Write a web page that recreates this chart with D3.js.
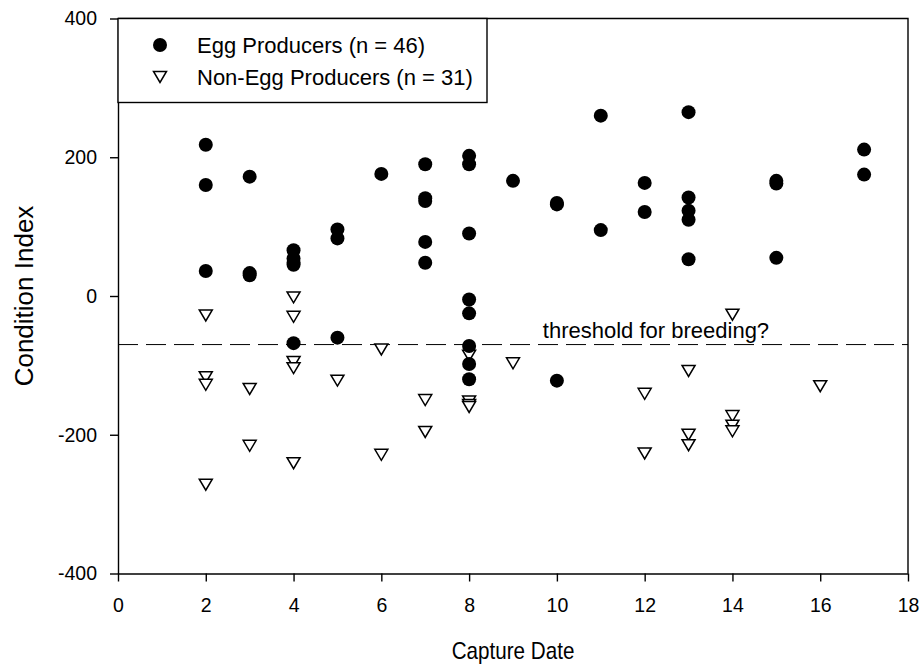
<!DOCTYPE html>
<html>
<head>
<meta charset="utf-8">
<script src="https://cdn.jsdelivr.net/npm/d3@7"></script>
<style>
  body { margin: 0; background: #fff; }
  text { font-family: Arial, "Liberation Sans", sans-serif; fill: #000; }
</style>
</head>
<body>
<div id="chart"></div>
<script>
// Egg producers: capture date and condition index
const eggDates = [2, 2, 2, 3, 3, 3, 4, 4, 4, 4, 4, 5, 5, 5, 6, 7, 7, 7, 7, 7,
  8, 8, 8, 8, 8, 8, 8, 8, 9, 10, 10, 10, 11, 11, 12, 12, 13, 13, 13, 13, 13,
  15, 15, 15, 17, 17];
const eggIndex = [218, 160, 36, 172, 33, 30, 66, 54, 48, 45, -68, 96, 83, -60, 176, 190, 141, 137, 78, 48,
  202, 190, 90, -5, -25, -72, -98, -120, 166, 134, 132, -122, 260, 95, 163, 121, 265, 142, 123, 110, 53,
  166, 162, 55, 211, 175];

// Non-egg producers
const nonEggDates = [2, 2, 2, 2, 3, 3, 4, 4, 4, 4, 4, 5, 6, 6, 7, 7, 8, 8, 8, 8, 9,
  12, 12, 13, 13, 13, 14, 14, 14, 14, 16];
const nonEggIndex = [-28, -117, -128, -272, -134, -216, -2, -30, -95, -104, -241, -122, -77, -229, -150, -196,
  -86, -152, -157, -160, -97, -141, -227, -108, -200, -215, -27, -173, -187, -195, -130];

const threshold = -70;
const xTicks = [0, 2, 4, 6, 8, 10, 12, 14, 16, 18];
const yTicks = [-400, -200, 0, 200, 400];
const legendLabels = ["Egg Producers (n = 46)", "Non-Egg Producers (n = 31)"];

const W = 924, H = 665;
const margin = { top: 18.5, right: 16, bottom: 91.5, left: 118 };
const width = W - margin.left - margin.right,
      height = H - margin.top - margin.bottom;

const svg = d3.select("#chart").append("svg")
  .attr("width", W).attr("height", H)
  .append("g")
  .attr("transform", `translate(${margin.left},${margin.top})`);

const x = d3.scaleLinear().domain([0, 18]).range([0, width]);
const y = d3.scaleLinear().domain([-400, 400]).range([height, 0]);

// axes (plain hyphen for negatives, like the original)
const xAxis = svg.append("g")
  .attr("transform", `translate(0,${height})`)
  .call(d3.axisBottom(x).tickValues(xTicks).tickFormat(d => String(d))
    .tickSize(8).tickSizeOuter(0).tickPadding(17));
const yAxis = svg.append("g")
  .call(d3.axisLeft(y).tickValues(yTicks).tickFormat(d => String(d))
    .tickSize(8).tickSizeOuter(0).tickPadding(13));

[xAxis, yAxis].forEach(g => {
  g.selectAll("path, line").attr("stroke", "#000").attr("stroke-width", 1.4);
  g.selectAll("text").style("font-size", "19.5px");
});

// frame top + right
svg.append("path")
  .attr("d", `M0,0H${width}V${height}`)
  .attr("fill", "none").attr("stroke", "#000").attr("stroke-width", 1.4);

// threshold line
svg.append("line")
  .attr("x1", 0).attr("x2", width)
  .attr("y1", y(threshold)).attr("y2", y(threshold))
  .attr("stroke", "#000").attr("stroke-width", 1)
  .attr("stroke-dasharray", "20,8");

svg.append("text")
  .attr("x", x(9.68)).attr("y", y(threshold) - 7)
  .style("font-size", "22px")
  .text("threshold for breeding?");

// markers
const tri = "M-6.5,-5.5L6.5,-5.5L0,5.5Z";

svg.append("g").selectAll("path")
  .data(nonEggDates.map((d, i) => [d, nonEggIndex[i]]))
  .enter().append("path")
  .attr("d", tri)
  .attr("transform", d => `translate(${x(d[0])},${y(d[1])})`)
  .attr("fill", "#fff").attr("stroke", "#000").attr("stroke-width", 1.5);

svg.append("g").selectAll("circle")
  .data(eggDates.map((d, i) => [d, eggIndex[i]]))
  .enter().append("circle")
  .attr("cx", d => x(d[0]))
  .attr("cy", d => y(d[1]))
  .attr("r", 7)
  .attr("fill", "#000");

// legend
const legend = svg.append("g");
legend.append("rect")
  .attr("x", 0).attr("y", 0).attr("width", 369).attr("height", 84)
  .attr("fill", "#fff").attr("stroke", "#000").attr("stroke-width", 1.4);
legend.append("circle").attr("cx", 42).attr("cy", 26.5).attr("r", 7).attr("fill", "#000");
legend.append("path").attr("d", tri).attr("transform", "translate(42,58.5)")
  .attr("fill", "#fff").attr("stroke", "#000").attr("stroke-width", 1.5);
legendLabels.forEach((t, i) => {
  legend.append("text")
    .attr("x", 79).attr("y", 26.5 + i * 32)
    .attr("dy", "0.35em")
    .style("font-size", "22px")
    .text(t);
});

// axis titles (original lettering is a bit tall and narrow)
svg.append("text")
  .attr("transform", `translate(${width / 2},${height + 85}) scale(0.86,1)`)
  .attr("text-anchor", "middle")
  .style("font-size", "24px")
  .text("Capture Date");

svg.append("text")
  .attr("transform", `translate(${33 - margin.left},${height / 2}) rotate(-90)`)
  .attr("text-anchor", "middle")
  .style("font-size", "26px")
  .text("Condition Index");
</script>
</body>
</html>
